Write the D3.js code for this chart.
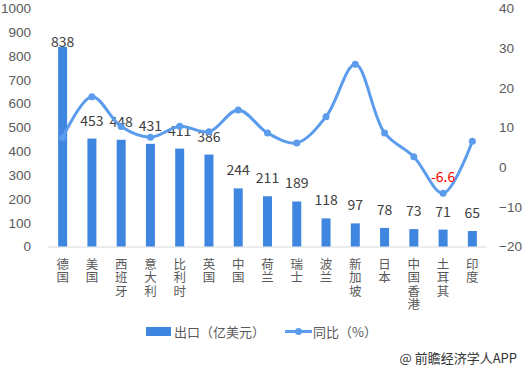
<!DOCTYPE html>
<html><head><meta charset="utf-8">
<script src="https://cdn.jsdelivr.net/npm/d3@7"></script>
<style>
html,body{margin:0;padding:0;background:#fff;}
svg text{font-family:"Noto Sans CJK SC","Microsoft YaHei",sans-serif;}
</style>
</head><body>
<svg id="c" width="523" height="370"></svg>
<script>
const categories = ["德国","美国","西班牙","意大利","比利时","英国","中国","荷兰","瑞士","波兰","新加坡","日本","中国香港","土耳其","印度"];
const exportsVal = [838,453,448,431,411,386,244,211,189,118,97,78,73,71,65];
const yoy = [7.4,17.7,10.2,7.5,10.3,8.9,14.4,8.6,6.1,12.7,25.9,8.6,2.6,-6.6,6.5];
const leftTicks = [0,100,200,300,400,500,600,700,800,900,1000];
const rightTicks = [-20,-10,0,10,20,30,40];
const seriesNames = ["出口（亿美元）","同比（%）"];
const sourceText = "@ 前瞻经济学人APP";

const svg = d3.select("#c");
const L = 48, R = 487, T = 8.3, B = 246.5;
const x = d3.scaleBand().domain(categories).range([L, R]).padding(0);
const yL = d3.scaleLinear().domain([0,1000]).range([B, T]);
const yR = d3.scaleLinear().domain([-20,40]).range([B, T]);
const barColor = "#3F86E0", lineColor = "#5C9CEC", textColor = "#595959";
const cx = c => x(c) + x.bandwidth()/2;
const numFont = "'Liberation Sans', Arial, sans-serif";

// left axis
const gl = svg.append("g").attr("transform", `translate(${L},0)`)
  .call(d3.axisLeft(yL).tickValues(leftTicks).tickFormat(d3.format("d")).tickSize(0).tickPadding(17));
gl.select(".domain").remove();
gl.selectAll("text").attr("fill", textColor).style("font-size","13.5px").style("font-family", numFont);

// right axis
const gr = svg.append("g").attr("transform", `translate(${R},0)`)
  .call(d3.axisRight(yR).tickValues(rightTicks).tickFormat(d3.format("d")).tickSize(0).tickPadding(12));
gr.select(".domain").remove();
gr.selectAll("text").attr("fill", textColor).style("font-size","13.5px").style("font-family", numFont);

// bottom axis line
svg.append("line").attr("x1", L).attr("x2", R).attr("y1", B+0.5).attr("y2", B+0.5)
  .attr("stroke", "#D9D9D9").attr("stroke-width", 1);

// bars
const bw = 9;
svg.selectAll("rect.bar").data(exportsVal).join("rect")
  .attr("class","bar")
  .attr("x", (d,i) => cx(categories[i]) - bw/2)
  .attr("width", bw)
  .attr("y", d => yL(d))
  .attr("height", d => B - yL(d))
  .attr("fill", barColor);

// bar labels
svg.selectAll("text.bl").data(exportsVal).join("text")
  .attr("class","bl")
  .attr("x", (d,i) => cx(categories[i]))
  .attr("y", (d,i) => Math.max(yL(d) - 13, 46.5))
  .attr("text-anchor","middle")
  .attr("fill", "#404040")
  .style("font-size","14px")
  .text(d => d);

// line
const line = d3.line()
  .x((d,i) => cx(categories[i]))
  .y(d => yR(d))
  .curve(d3.curveCatmullRom.alpha(0.5));
svg.append("path").datum(yoy).attr("d", line)
  .attr("fill","none").attr("stroke", lineColor).attr("stroke-width", 3)
  .attr("stroke-linecap","round");
svg.selectAll("circle.pt").data(yoy).join("circle")
  .attr("class","pt")
  .attr("cx", (d,i) => cx(categories[i]))
  .attr("cy", d => yR(d))
  .attr("r", 3.5)
  .attr("fill", lineColor);

// negative label
yoy.forEach((v,i) => {
  if (v < 0) {
    svg.append("text")
      .attr("x", cx(categories[i]))
      .attr("y", yR(v) - 11)
      .attr("text-anchor","middle")
      .attr("fill","#FF0000")
      .style("font-size","14px")
      .text(v);
  }
});

// x labels (vertical text)
svg.selectAll("text.xl").data(categories).join("text")
  .attr("class","xl")
  .attr("x", d => cx(d))
  .attr("y", 257.5)
  .style("writing-mode","vertical-rl")
  .style("text-orientation","upright")
  .style("letter-spacing","1px")
  .attr("text-anchor","start")
  .attr("fill", textColor)
  .style("font-size","12.5px")
  .text(d => d);

// legend
svg.append("rect").attr("x",146).attr("y",327).attr("width",25).attr("height",9).attr("fill",barColor);
svg.append("text").attr("x",174).attr("y",336.5).attr("fill",textColor).style("font-size","13px").text(seriesNames[0]);
svg.append("line").attr("x1",285).attr("x2",312).attr("y1",331.5).attr("y2",331.5).attr("stroke",lineColor).attr("stroke-width",3);
svg.append("circle").attr("cx",298.5).attr("cy",331.5).attr("r",3.5).attr("fill",lineColor);
svg.append("text").attr("x",313).attr("y",336.5).attr("fill",textColor).style("font-size","13px").text(seriesNames[1]);

// source
svg.append("text").attr("x",517).attr("y",363).attr("text-anchor","end").attr("fill","#333")
  .style("font-size","13px").text(sourceText);
</script>
</body></html>
